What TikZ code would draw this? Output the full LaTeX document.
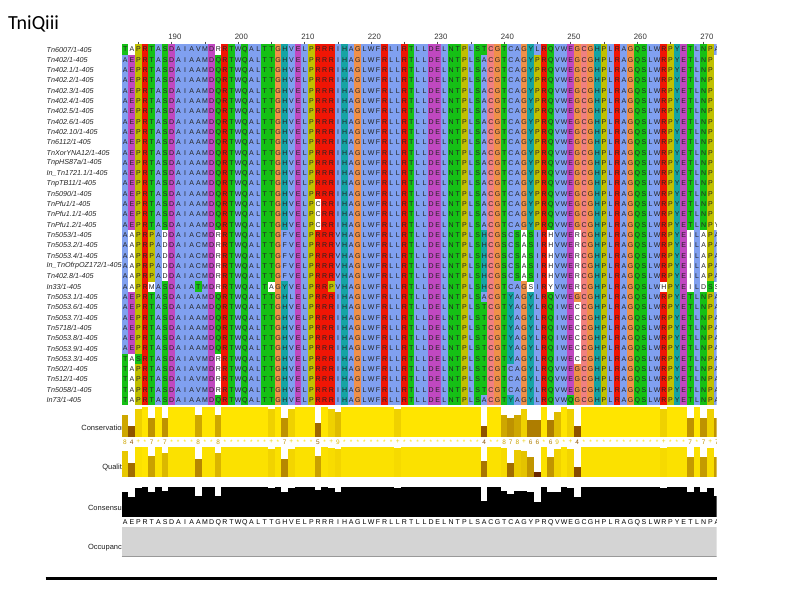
\documentclass[tikz,border=0pt]{standalone}
\usepackage{fontspec}
\setmainfont{Liberation Sans}
\newfontfamily\titlefont{Carlito}
\definecolor{cxB}{RGB}{128,160,240}
\definecolor{cxR}{RGB}{240,21,5}
\definecolor{cxM}{RGB}{192,72,192}
\definecolor{cxG}{RGB}{21,192,21}
\definecolor{cxP}{RGB}{240,128,128}
\definecolor{cxO}{RGB}{240,144,72}
\definecolor{cxY}{RGB}{192,192,0}
\definecolor{cxC}{RGB}{21,164,164}
\makeatletter
\newcommand\alnset[3]{\@namedef{alncol@#1}{#2}\@namedef{alnlet@#1}{#3}}
\makeatother
\alnset{A}{cxB}{A}\alnset{I}{cxB}{I}\alnset{L}{cxB}{L}\alnset{M}{cxB}{M}
\alnset{F}{cxB}{F}\alnset{W}{cxB}{W}\alnset{V}{cxB}{V}\alnset{Z}{cxB}{C}
\alnset{R}{cxR}{R}\alnset{K}{cxR}{K}
\alnset{D}{cxM}{D}\alnset{E}{cxM}{E}
\alnset{S}{cxG}{S}\alnset{T}{cxG}{T}\alnset{N}{cxG}{N}\alnset{Q}{cxG}{Q}
\alnset{C}{cxP}{C}\alnset{G}{cxO}{G}\alnset{P}{cxY}{P}
\alnset{H}{cxC}{H}\alnset{Y}{cxC}{Y}
\alnset{a}{white}{A}\alnset{i}{white}{I}\alnset{l}{white}{L}\alnset{m}{white}{M}
\alnset{f}{white}{F}\alnset{w}{white}{W}\alnset{v}{white}{V}
\alnset{r}{white}{R}\alnset{k}{white}{K}\alnset{d}{white}{D}\alnset{e}{white}{E}
\alnset{s}{white}{S}\alnset{t}{white}{T}\alnset{n}{white}{N}\alnset{q}{white}{Q}
\alnset{c}{white}{C}\alnset{g}{white}{G}\alnset{p}{white}{P}
\alnset{h}{white}{H}\alnset{y}{white}{Y}
\alnset{-}{white}{}
\def\alnwhite{white}
\newcommand\alncell[3]{%
  \edef\alncolor{\csname alncol@#3\endcsname}%
  \ifx\alncolor\alnwhite\else
    \pgfmathsetmacro\alnx{121.7+(#2-1)*6.65}%
    \pgfmathsetmacro\alny{44.3+(#1-1)*10.31}%
    \fill[\alncolor] (\alnx,\alny) rectangle ++(6.72,10.38);%
  \fi
}
\ExplSyntaxOn
\int_new:N \g_aln_col_int
\cs_new:Npn \aln_box:n #1 { \hbox_to_wd:nn {6.65pt} { \hss \use:c {alnlet@#1} \hss } }
\NewDocumentCommand \alnlet { m } { \tl_map_function:nN {#1} \aln_box:n }
\NewDocumentCommand \alnfills { m m }
  {
    \int_gzero:N \g_aln_col_int
    \tl_map_inline:nn {#2}
      {
        \int_gincr:N \g_aln_col_int
        \exp_args:Nnx \alncell {#1} { \int_use:N \g_aln_col_int } {##1}
      }
  }
\ExplSyntaxOff
\newcommand\alnrow[2]{%
  \alnfills{#1}{#2}%
  \node[resrow] (row#1) at (121.7,{44.3+(#1-0.5)*10.31+2.5}) {\alnlet{#2}};%
}
\begin{document}
\begin{tikzpicture}[x=1pt,y=-1pt,
  resrow/.style={inner sep=0pt, anchor=base west, font=\fontsize{7}{8}\selectfont, text=black!86},
  seqname/.style={inner sep=0pt, anchor=west, font=\itshape\fontsize{7.2}{8}\selectfont, text=black!85},
  annlabel/.style={inner sep=0pt, anchor=east, font=\fontsize{7.5}{9}\selectfont, text=black!88},
  rulenum/.style={inner sep=0pt, anchor=base, font=\fontsize{7.8}{9}\selectfont, text=black!80},
  tickmark/.style={draw=black!70, line width=0.5pt},
  consym/.style={inner sep=0pt, font=\fontsize{6.5}{7}\selectfont},
]
\useasboundingbox (0,0) rectangle (800,600);
\fill[white] (0,0) rectangle (800,600);
\node[anchor=base west, inner sep=0pt, font=\titlefont\fontsize{20}{24}\selectfont] (title) at (8,29) {TniQiii};
% ruler
\foreach \p in {190,200,...,270} \node[rulenum] (ruler\p) at ({121.7+(\p-182)*6.65},39.5) {\p};
\foreach \p in {185,190,...,270} \draw[tickmark] ({121.7+(\p-182.5)*6.65},41.5) -- ++(0,3.2);
% names
\begin{scope}
\clip (40,40) rectangle (121.7,410);
\foreach \nm [count=\i] in {Tn6007/1-405,Tn402/1-405,Tn402.1/1-405,Tn402.2/1-405,Tn402.3/1-405,Tn402.4/1-405,Tn402.5/1-405,Tn402.6/1-405,Tn402.10/1-405,Tn6112/1-405,TnXorYNA12/1-405,TnpHS87a/1-405,In\_Tn1721.1/1-405,TnpTB11/1-405,Tn5090/1-405,TnPfu1/1-405,TnPfu1.1/1-405,TnPfu1.2/1-405,Tn5053/1-405,Tn5053.2/1-405,Tn5053.4/1-405,In\_TnOfrpOZ172/1-405,Tn402.8/1-405,In33/1-405,Tn5053.1/1-405,Tn5053.6/1-405,Tn5053.7/1-405,Tn5718/1-405,Tn5053.8/1-405,Tn5053.9/1-405,Tn5053.3/1-405,Tn502/1-405,Tn512/1-405,Tn5058/1-405,In73/1-405}
  \node[seqname] (name\i) at (46.5,{44.3+(\i-0.5)*10.31}) {\nm};
\end{scope}
% annotation labels
\begin{scope}
\clip (40,400) rectangle (121.7,560);
\node[annlabel] (lcons) at (125.8,427.7) {Conservation};
\node[annlabel] (lqual) at (125.8,467.5) {Quality};
\node[annlabel] (lcsus) at (125.8,507.7) {Consensus};
\node[annlabel] (locc) at (125.8,547.3) {Occupancy};
\end{scope}
\begin{scope}
\clip (121.7,40) rectangle (716.5,600);
\alnrow{1}{TaPRTASDAIAVMDrRTWQALTTGHVELPRRRIHAGLWFRLIRTLLDELNTPLSTCGTZAGYLRQVWEGCGHPLRAGQSLWRPYETLNPA}
\foreach \rr in {2,...,15}{\alnrow{\rr}{AEPRTASDAIAAMDQRTWQALTTGHVELPRRRIHAGLWFRLLRTLLDELNTPLSACGTZAGYPRQVWEGCGHPLRAGQSLWRPYETLNP-}}
\foreach \rr in {16,17}{\alnrow{\rr}{AEPRTASDAIAAMDQRTWQALTTGHVELPcRRIHAGLWFRLLRTLLDELNTPLSACGTZAGYPRQVWEGCGHPLRAGQSLWRPYETLNP-}}
\alnrow{18}{AEPRTASDAIAAMDQRTWQALTTGHVELPcRRIHAGLWFRLLRTLLDELNTPLSACGTZAGYPRQVWEGCGHPLRAGQSLWRPYETLNPy}
\foreach \rr in {19,...,23}{\alnrow{\rr}{AaPRPAdDAIAZMDrRTWQALTTGFVELPRRRVHAGLWFRLLRTLLDELNTPLSHCGSZSaSIRhVWErCGHPLRAGQSLWRPYEiLaPA}}
\alnrow{24}{AaPRmASDAIATMDrRTWQALTaGYVELPRRPVHAGLWFRLLRTLLDELNTPLSHCGTZAGsIRyVWErCGHPLRAGQSLWhPYEiLdSs}
\alnrow{25}{AEPRTASDAIAAMDQRTWQALTTGHLELPRRRIHAGLWFRLLRTLLDELNTPLSACGTYAGYLRQVWEGCGHPLRAGQSLWRPYETLNPA}
\foreach \rr in {26,...,30}{\alnrow{\rr}{AEPRTASDAIAAMDQRTWQALTTGHVELPRRRIHAGLWFRLLRTLLDELNTPLSTCGTYAGYLRQIWEcCGHPLRAGQSLWRPYETLNPA}}
\alnrow{31}{TaSRTASDAIAVMDrRTWQALTTGHVELPRRRIHAGLWFRLLRTLLDELNTPLSTCGTYAGYLRQIWEcCGHPLRAGQSLWRPYETLNPA}
\foreach \rr in {32,33,34}{\alnrow{\rr}{TaPRTASDAIAVMDrRTWQALTTGHVELPRRRIHAGLWFRLLRTLLDELNTPLSTCGTZAGYLRQVWEGCGHPLRAGQSLWRPYETLNPA}}
\alnrow{35}{TaPRTASDAIAAMDQRTWQALTTGHVELPRRRIHAGLWFRLLRTLLDELNTPLSACGTYAGYLRQVWQGCGHPLRAGQSLWRPYETLNPA}
% conservation
\foreach \v [count=\c] in {8,4,10,11,7,11,7,11,11,11, 11,8,11,11,8,11,11,11,11,11, 11,11,10,11,7,10,11,11,11,5, 11,10,9,11,11,11,11,11,11,11, 11,10,11,11,11,11,11,11,11,11, 11,11,11,11,4,11,11,8,7,8, 10,6,6,11,6,9,11,10,4,11, 11,11,11,11,11,11,11,11,11,11, 11,10,11,11,11,7,11,7,10,7}{
  \pgfmathsetmacro\cR{0.3+0.7*\v/11}
  \pgfmathsetmacro\cG{0.9*\v/11}
  \definecolor{barc}{rgb}{\cR,\cG,0}
  \pgfmathsetmacro\bx{121.7+(\c-1)*6.65}
  \fill[barc] (\bx,436.7) rectangle ++(6.72,{-30*\v/11});
  \ifnum\v=11 \def\sym{*}\else\ifnum\v=10 \def\sym{+}\else\edef\sym{\v}\fi\fi
  \node[consym,text=barc] (cv\c) at (\bx+3.325,442) {\sym};
}
% quality
\foreach \q [count=\c] in {.87,.47,.98,1,.70,.98,.80,.98,.98,.98, .98,.59,.98,.98,.79,.98,.98,.98,.98,.98, .98,.98,.92,.98,.59,.93,.98,.98,.98,.70, .98,.96,.93,.98,.98,.98,.98,.98,.98,.98, .98,.95,.98,.98,.98,.98,.98,.98,.98,.98, .98,.98,.98,.98,.51,.98,.98,.95,.47,.88, .85,.65,.17,.98,.65,.92,.98,.93,.33,.98, .98,.98,.98,.98,.98,.98,.98,.98,.98,.98, .98,.95,.98,.98,.98,.67,.98,.67,.96,.67}{
  \pgfmathsetmacro\qR{0.3+0.7*\q}
  \pgfmathsetmacro\qG{0.9*\q}
  \definecolor{qbarc}{rgb}{\qR,\qG,0}
  \fill[qbarc] ({121.7+(\c-1)*6.65},476.7) rectangle ++(6.72,{-30*\q});
}
% consensus histogram
\foreach \pc [count=\c] in {83,66,97,100,83,100,86,100,100,100, 100,69,100,100,69,100,100,100,100,100, 100,100,97,100,83,97,100,100,100,91, 100,97,83,100,100,100,100,100,100,100, 100,97,100,100,100,100,100,100,100,100, 100,100,100,100,54,100,100,86,77,86, 86,83,49,100,83,83,100,97,66,100, 100,100,100,100,100,100,100,100,100,100, 100,97,100,100,100,83,100,83,97,70}
  \fill[black] ({121.7+(\c-1)*6.65},516.7) rectangle ++(6.72,{-29.4*\pc/100});
\node[resrow,text=black] (consensus) at (121.7,524.2) {\alnlet{AEPRTASDAIAAMDQRTWQALTTGHVELPRRRIHAGLWFRLLRTLLDELNTPLSACGTCAGYPRQVWEGCGHPLRAGQSLWRPYETLNPA}};
% occupancy
\fill[black!17] (121.7,527.3) rectangle (716.5,556.2);
\draw[black!40,line width=0.6pt] (121.7,555.9) -- (716.5,555.9);
\end{scope}
\coordinate (bl1) at (45.5,578.5);
\coordinate (bl2) at (716.5,578.5);
\draw[line width=3.2pt] (bl1) -- (bl2);
\end{tikzpicture}
\end{document}
